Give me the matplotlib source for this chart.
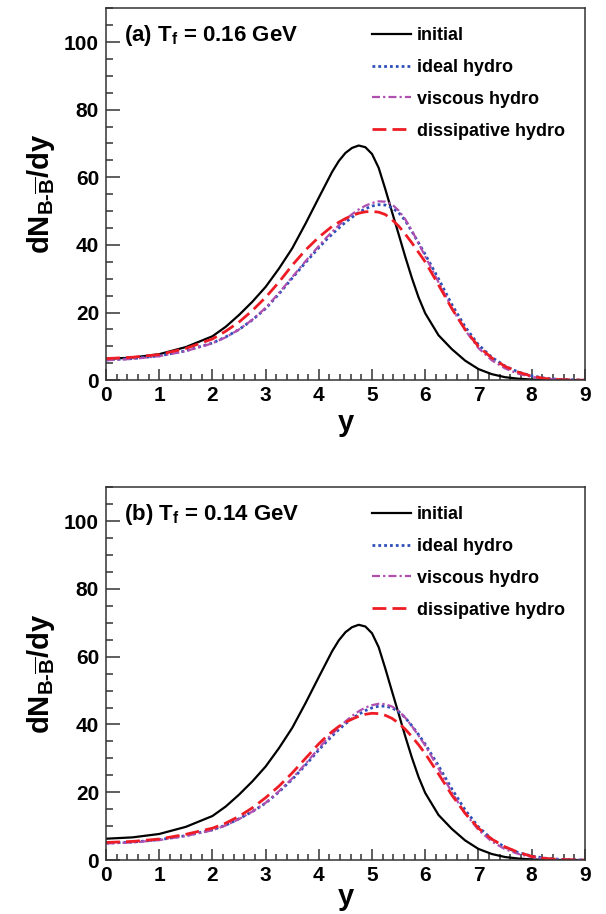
import numpy as np
import matplotlib
matplotlib.use("Agg")
import matplotlib.pyplot as plt
from matplotlib.ticker import MultipleLocator

plt.rcParams['font.family'] = ['Liberation Sans', 'DejaVu Sans']
plt.rcParams['font.weight'] = 'bold'
plt.rcParams['mathtext.fontset'] = 'custom'
plt.rcParams['mathtext.rm'] = 'Liberation Sans:bold'
plt.rcParams['mathtext.bf'] = 'Liberation Sans:bold'
plt.rcParams['mathtext.it'] = 'Liberation Sans:bold'

# rapidity grid shared by all curves
rap = [0, 0.5, 1, 1.5, 2, 2.25, 2.5, 2.75, 3, 3.25, 3.5, 3.75, 4, 4.125, 4.25,
       4.375, 4.5, 4.625, 4.75, 4.875, 5, 5.125, 5.25, 5.375, 5.5, 5.625, 5.75,
       5.875, 6, 6.25, 6.5, 6.75, 7, 7.25, 7.5, 7.75, 8, 8.25, 8.5, 9]

# initial distribution (same in both panels)
initial = [6.3, 6.7, 7.7, 9.8, 13.0, 15.8, 19.3, 23.2, 27.6, 33.0, 39.0, 46.3,
           54.0, 57.8, 61.6, 64.8, 67.2, 68.7, 69.4, 68.9, 66.9, 62.8, 56.5,
           49.8, 43.2, 36.5, 30.2, 24.5, 19.8, 13.3, 9.2, 5.8, 3.3, 1.8, 0.9,
           0.45, 0.2, 0.08, 0.03, 0.0]

# panel (a) Tf = 0.16 GeV
ideal_a = [6.0, 6.4, 7.2, 8.7, 11.0, 12.8, 15.0, 17.8, 21.2, 25.5, 30.2, 34.8,
           39.2, 41.3, 43.2, 45.0, 46.7, 48.2, 49.6, 50.7, 51.5, 51.9, 51.8,
           51.0, 49.6, 47.2, 44.0, 40.6, 37.2, 30.0, 22.4, 15.8, 10.5, 6.8,
           4.2, 2.4, 1.3, 0.6, 0.25, 0.0]
viscous_a = [5.9, 6.3, 7.1, 8.6, 10.9, 12.7, 15.0, 17.9, 21.4, 25.8, 30.5, 35.2,
             39.7, 41.9, 43.9, 45.8, 47.5, 49.1, 50.5, 51.6, 52.4, 52.9, 52.8,
             52.0, 50.2, 47.6, 44.2, 40.5, 36.6, 29.0, 21.4, 14.8, 9.5, 5.9,
             3.5, 1.9, 1.0, 0.45, 0.2, 0.0]
dissip_a = [6.4, 6.8, 7.6, 9.4, 12.2, 14.5, 17.2, 20.6, 24.5, 29.0, 34.0, 38.5,
            42.3, 43.9, 45.5, 46.7, 47.8, 48.7, 49.4, 49.8, 49.9, 49.7, 49.0,
            47.5, 45.6, 43.2, 40.6, 37.8, 35.0, 28.2, 21.2, 15.0, 10.0, 6.6,
            4.1, 2.4, 1.2, 0.5, 0.2, 0.0]

# panel (b) Tf = 0.14 GeV
ideal_b = [5.0, 5.3, 6.0, 7.2, 8.9, 10.3, 12.2, 14.3, 16.8, 20.1, 23.8, 28.0,
           32.5, 34.6, 36.6, 38.5, 40.2, 41.7, 43.0, 44.1, 44.9, 45.4, 45.4,
           44.9, 43.8, 42.0, 39.6, 37.0, 34.2, 27.8, 21.0, 14.8, 9.8, 6.2,
           3.8, 2.2, 1.2, 0.55, 0.25, 0.0]
viscous_b = [4.9, 5.2, 5.9, 7.1, 8.8, 10.2, 12.1, 14.3, 16.9, 20.3, 24.1, 28.4,
             33.0, 35.2, 37.2, 39.1, 40.9, 42.5, 43.9, 45.0, 45.7, 46.1, 46.0,
             45.3, 44.0, 42.0, 39.5, 36.7, 33.8, 27.0, 20.0, 13.8, 8.9, 5.5,
             3.2, 1.8, 0.9, 0.4, 0.15, 0.0]
dissip_b = [5.2, 5.5, 6.2, 7.6, 9.4, 10.9, 12.9, 15.4, 18.4, 21.8, 25.7, 30.0,
            34.3, 36.2, 37.9, 39.4, 40.6, 41.6, 42.4, 43.0, 43.3, 43.2, 42.7,
            41.8, 40.4, 38.6, 36.4, 34.0, 31.4, 25.4, 19.2, 13.8, 9.4, 6.2,
            3.9, 2.3, 1.1, 0.5, 0.2, 0.0]

panels = [
    ("(a) T$_{\\mathrm{f}}$ = 0.16 GeV", ideal_a, viscous_a, dissip_a, 3),
    ("(b) T$_{\\mathrm{f}}$ = 0.14 GeV", ideal_b, viscous_b, dissip_b, -1),
]

fig = plt.figure(figsize=(6.06, 9.14), dpi=100)
rects = [[0.175, 0.584, 0.79, 0.407], [0.175, 0.059, 0.79, 0.408]]

for rect, (title, ideal, viscous, dissip, xpad) in zip(rects, panels):
    ax = fig.add_axes(rect)
    ax.plot(rap, initial, color='black', lw=1.6, label='initial')
    ax.plot(rap, ideal, color='#2f4fb8', lw=2.0, ls=(0, (1, 1.1)), label='ideal hydro')
    ax.plot(rap, viscous, color='#b04fb0', lw=1.6, ls=(0, (3.6, 1.4, 1, 1.4)), label='viscous hydro')
    ax.plot(rap, dissip, color='#ee1c25', lw=2.0, ls=(0, (5, 2.2)), label='dissipative hydro')

    ax.set_xlim(0, 9)
    ax.set_ylim(0, 110)
    ax.xaxis.set_major_locator(MultipleLocator(1))
    ax.xaxis.set_minor_locator(MultipleLocator(0.2))
    ax.yaxis.set_major_locator(MultipleLocator(20))
    ax.yaxis.set_minor_locator(MultipleLocator(5))
    ax.tick_params(axis='both', which='both', direction='in', top=False, right=False,
                   labelsize=15, width=1.1, color='#333333')
    ax.tick_params(axis='x', which='major', length=8, pad=4)
    ax.tick_params(axis='x', which='minor', length=4.5)
    ax.tick_params(axis='y', which='major', length=10, pad=5)
    ax.tick_params(axis='y', which='minor', length=5)
    for sp in ax.spines.values():
        sp.set_linewidth(1.1)
        sp.set_color('#333333')

    ax.set_xlabel('y', fontsize=21, fontweight='bold', labelpad=xpad)
    ax.set_ylabel(r'dN$_{\mathrm{B\text{-}\overline{B}}}$/dy', fontsize=21,
                  fontweight='bold', labelpad=5)

    ax.text(0.038, 0.927, title, transform=ax.transAxes, fontsize=16,
            fontweight='bold', va='center', ha='left')

    ax.legend(loc='upper left', bbox_to_anchor=(0.555, 0.949), frameon=False,
              fontsize=13, handlelength=2.2, handletextpad=0.3,
              labelspacing=0.82, borderpad=0, borderaxespad=0)

fig.savefig('out.png', dpi=100)
